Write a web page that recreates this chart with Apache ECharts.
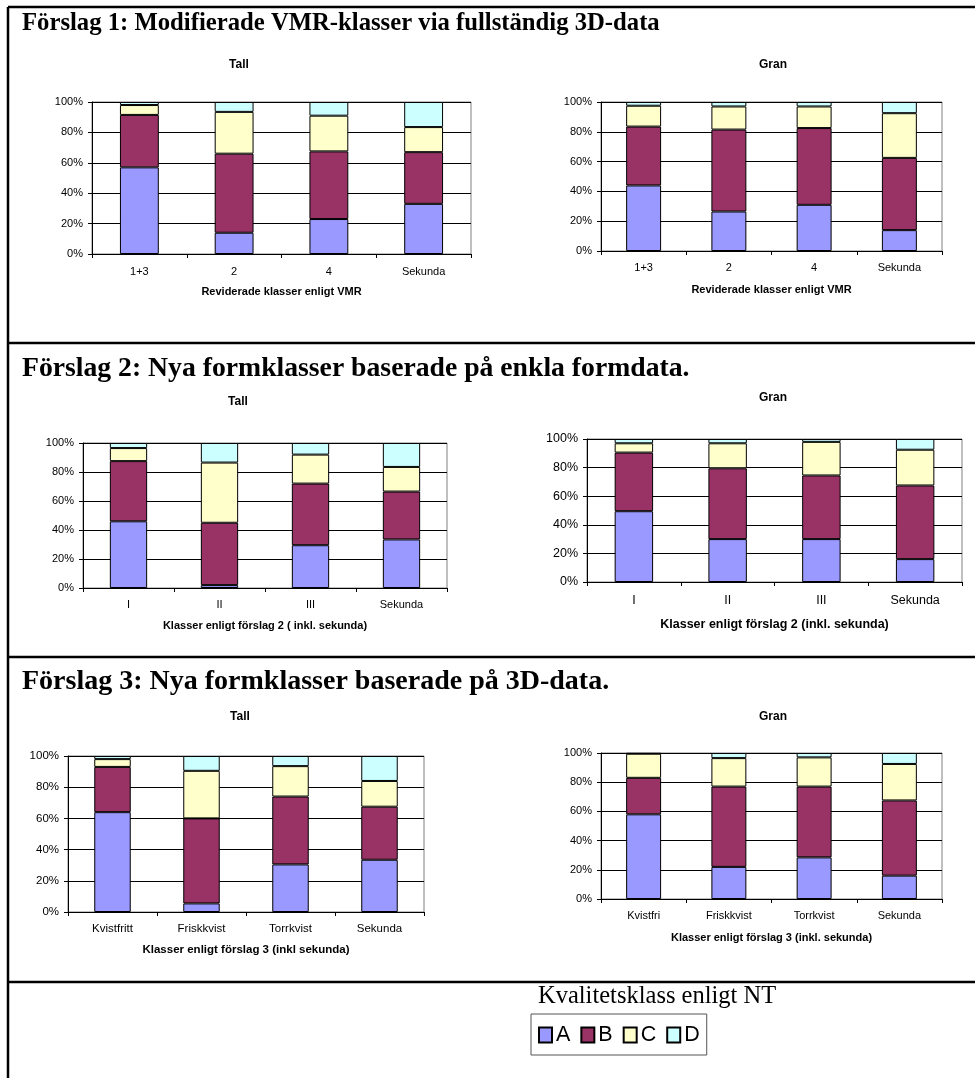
<!DOCTYPE html>
<html>
<head>
<meta charset="utf-8">
<title>Förslag till formklasser – Tall och Gran</title>
<script src="https://cdn.jsdelivr.net/npm/echarts@6/dist/echarts.min.js"></script>
<style>
  html, body { margin: 0; padding: 0; background: #fff; }
  #chart { width: 975px; height: 1078px; }
</style>
</head>
<body>
<div id="chart"></div>
<script>
// Kvalitetsklasser enligt NT
const kvalitetsklasser = ['A', 'B', 'C', 'D'];

// Kategorier per förslag
const kategorierF1 = ['1+3', '2', '4', 'Sekunda'];
const kategorierF2 = ['I', 'II', 'III', 'Sekunda'];
const kategorierF3Tall = ['Kvistfritt', 'Friskkvist', 'Torrkvist', 'Sekunda'];
const kategorierF3Gran = ['Kvistfri', 'Friskkvist', 'Torrkvist', 'Sekunda'];

// Andel (%) per kvalitetsklass – Förslag 1
const tallF1A = [57, 14, 23, 33];
const tallF1B = [34.5, 52, 44.5, 34];
const tallF1C = [6.5, 27.5, 23.5, 16.5];
const tallF1D = [2, 6.5, 9, 16.5];

const granF1A = [44, 26.5, 31, 14];
const granF1B = [39.5, 55, 51.5, 48.5];
const granF1C = [14, 15.5, 14.5, 30];
const granF1D = [2.5, 3, 3, 7.5];

// Förslag 2
const tallF2A = [46, 2, 29.5, 33.5];
const tallF2B = [41.5, 43, 42.5, 33];
const tallF2C = [9, 41.5, 20, 17];
const tallF2D = [3.5, 13.5, 8, 16.5];

const granF2A = [49.5, 30, 30, 16];
const granF2B = [41, 49.5, 44.5, 51.5];
const granF2C = [6.5, 17.5, 23.5, 25];
const granF2D = [3, 3, 2, 7.5];

// Förslag 3
const tallF3A = [64, 5.5, 30.5, 33.5];
const tallF3B = [29, 54.5, 43.5, 34];
const tallF3C = [5, 30.5, 19.5, 16.5];
const tallF3D = [2, 9.5, 6.5, 16];

const granF3A = [58, 22, 28.5, 16];
const granF3B = [25, 55, 48.5, 51.5];
const granF3C = [16.5, 19.5, 20, 25];
const granF3D = [0.5, 3.5, 3, 7.5];

// Y-axelns skala
const yMin = 0, yMax = 100, yStep = 20;

const klassFarger = ['#9999FF', '#993366', '#FFFFCC', '#CCFFFF'];
const sans = 'Liberation Sans, Arial, sans-serif';
const serif = 'Liberation Serif, Times New Roman, serif';

const paneler = [
  { titel: 'Tall', tx: 239, ty: 65, kat: kategorierF1, serier: [tallF1A, tallF1B, tallF1C, tallF1D],
    axelnamn: 'Reviderade klasser enligt VMR',
    grid: { left: 92, top: 102, width: 379, height: 152 }, fs: 11, lm: 12, ng: 32 },
  { titel: 'Gran', tx: 773, ty: 65, kat: kategorierF1, serier: [granF1A, granF1B, granF1C, granF1D],
    axelnamn: 'Reviderade klasser enligt VMR',
    grid: { left: 601, top: 102, width: 341, height: 149 }, fs: 11, lm: 11, ng: 33 },
  { titel: 'Tall', tx: 238, ty: 402, kat: kategorierF2, serier: [tallF2A, tallF2B, tallF2C, tallF2D],
    axelnamn: 'Klasser enligt förslag 2 ( inkl. sekunda)',
    grid: { left: 83, top: 443, width: 364, height: 145 }, fs: 11, lm: 11, ng: 32 },
  { titel: 'Gran', tx: 773, ty: 398, kat: kategorierF2, serier: [granF2A, granF2B, granF2C, granF2D],
    axelnamn: 'Klasser enligt förslag 2 (inkl. sekunda)',
    grid: { left: 587, top: 439, width: 375, height: 143 }, fs: 12.5, lm: 12, ng: 36 },
  { titel: 'Tall', tx: 240, ty: 717, kat: kategorierF3Tall, serier: [tallF3A, tallF3B, tallF3C, tallF3D],
    axelnamn: 'Klasser enligt förslag 3 (inkl sekunda)',
    grid: { left: 68, top: 756, width: 356, height: 156 }, fs: 11.5, lm: 11, ng: 32 },
  { titel: 'Gran', tx: 773, ty: 717, kat: kategorierF3Gran, serier: [granF3A, granF3B, granF3C, granF3D],
    axelnamn: 'Klasser enligt förslag 3 (inkl. sekunda)',
    grid: { left: 601, top: 753, width: 341, height: 146 }, fs: 11, lm: 11, ng: 33 }
];

const grids = [], xAxes = [], yAxes = [], series = [], graphic = [];

paneler.forEach((p, i) => {
  grids.push(Object.assign({ show: true, borderColor: '#808080', borderWidth: 1, backgroundColor: '#fff' }, p.grid));

  xAxes.push({
    type: 'category', gridIndex: i, data: p.kat, boundaryGap: true,
    axisLine: { lineStyle: { color: '#000', width: 1 } },
    axisTick: { show: true, length: 4, lineStyle: { color: '#000' } },
    axisLabel: { color: '#000', fontFamily: sans, fontSize: p.fs, margin: p.lm },
    splitLine: { show: false },
    name: p.axelnamn, nameLocation: 'middle', nameGap: p.ng,
    nameTextStyle: { color: '#000', fontFamily: sans, fontSize: p.fs, fontWeight: 'bold' }
  });

  yAxes.push({
    type: 'value', gridIndex: i, min: yMin, max: yMax, interval: yStep,
    axisLine: { show: true, lineStyle: { color: '#000', width: 1 } },
    axisTick: { show: true, length: 4, lineStyle: { color: '#000' } },
    axisLabel: { color: '#000', fontFamily: sans, fontSize: p.fs, margin: 9, formatter: '{value}%' },
    splitLine: { show: true, lineStyle: { color: '#000', width: 1 } }
  });

  p.serier.forEach((vals, k) => {
    series.push({
      type: 'bar', name: kvalitetsklasser[k], stack: 'panel' + i,
      xAxisIndex: i, yAxisIndex: i, data: vals, barWidth: '41%',
      itemStyle: { color: klassFarger[k], borderColor: '#000', borderWidth: 1 },
      emphasis: { disabled: true }, silent: true
    });
  });

  graphic.push({
    type: 'text', x: p.tx, y: p.ty,
    style: { text: p.titel, fill: '#000', font: 'bold 12px ' + sans,
             textAlign: 'center', textVerticalAlign: 'middle' }
  });
});

// Ram och avdelare
const linje = { stroke: '#000', lineWidth: 2.5 };
graphic.push(
  { type: 'line', shape: { x1: 8, y1: 7, x2: 975, y2: 7 }, style: linje },
  { type: 'line', shape: { x1: 8, y1: 7, x2: 8, y2: 1078 }, style: linje },
  { type: 'line', shape: { x1: 8, y1: 343, x2: 975, y2: 343 }, style: linje },
  { type: 'line', shape: { x1: 8, y1: 657, x2: 975, y2: 657 }, style: linje },
  { type: 'line', shape: { x1: 8, y1: 982, x2: 975, y2: 982 }, style: linje }
);

// Rubriker för förslagen
const rubriker = [
  { text: 'Förslag 1: Modifierade VMR-klasser via fullständig 3D-data', y: 24, size: 24.7 },
  { text: 'Förslag 2: Nya formklasser baserade på enkla formdata.', y: 369, size: 27.7 },
  { text: 'Förslag 3: Nya formklasser baserade på 3D-data.', y: 682, size: 28 }
];
rubriker.forEach(r => graphic.push({
  type: 'text', x: 22, y: r.y,
  style: { text: r.text, fill: '#000', font: 'bold ' + r.size + 'px ' + serif, textAlign: 'left', textVerticalAlign: 'middle' }
}));

graphic.push({
  type: 'text', x: 538, y: 997,
  style: { text: 'Kvalitetsklass enligt NT', fill: '#000', font: '24.5px ' + serif, textAlign: 'left', textVerticalAlign: 'middle' }
});

const chart = echarts.init(document.getElementById('chart'), null, { renderer: 'canvas' });
chart.setOption({
  animation: false,
  backgroundColor: '#fff',
  grid: grids,
  xAxis: xAxes,
  yAxis: yAxes,
  series: series,
  legend: {
    data: kvalitetsklasser, left: 531, top: 1014, orient: 'horizontal',
    icon: 'rect', itemWidth: 13, itemHeight: 15, itemGap: 10,
    padding: [10, 7, 9, 7], borderColor: '#555', borderWidth: 1,
    selectedMode: false,
    textStyle: { color: '#000', fontFamily: sans, fontSize: 21.5, padding: [0, 0, 0, -1] }
  },
  graphic: graphic
});
</script>
</body>
</html>
